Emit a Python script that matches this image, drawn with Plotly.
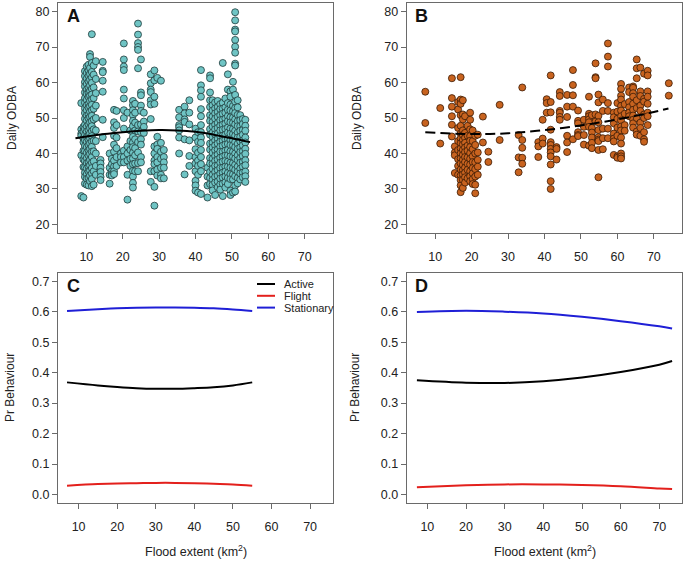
import plotly.graph_objects as go

W, H = 685, 561

# ---------------- Panel A data (flood extent, daily ODBA) ----------------
a_cols = [
    (8.6, [54.2, 46.8, 45.6, 45.0, 39.5, 28.0]),
    (9.2, [47.5, 46.1, 44.3, 43.2, 40.8, 38.3, 36.2, 27.6]),
    (9.6, [63.2, 61.8, 60.1, 58.9, 57.2, 55.6, 54.3, 52.7, 51.4, 49.8, 48.1, 46.9, 45.2, 43.8, 42.1, 40.7, 39.2, 37.9, 36.1, 34.6, 33.4, 31.5]),
    (10.1, [64.5, 62.7, 61.1, 59.6, 58.0, 56.8, 55.1, 53.6, 52.2, 50.7, 49.3, 47.6, 46.2, 44.7, 43.3, 41.8, 40.2, 38.7, 37.3, 35.8, 34.2, 32.9, 31.2]),
    (10.6, [65.0, 63.4, 61.9, 60.3, 58.6, 57.1, 55.9, 54.0, 52.9, 51.0, 49.9, 48.2, 46.6, 45.1, 43.9, 42.4, 40.9, 39.4, 37.6, 36.3, 34.9, 33.1, 31.0]),
    (11.0, [68.0, 67.2, 64.1, 62.4, 60.8, 59.2, 57.6, 56.3, 54.8, 53.3, 51.8, 50.3, 48.8, 47.2, 45.7, 44.3, 42.9, 41.3, 39.9, 38.2, 36.7, 35.2, 33.8, 32.2]),
    (11.5, [73.6, 65.5, 63.0, 61.4, 59.9, 58.2, 56.6, 55.2, 53.7, 52.2, 50.6, 49.1, 47.7, 46.3, 44.9, 43.4, 41.9, 40.5, 39.0, 37.4, 35.9, 34.4, 32.8, 30.8]),
    (12.0, [64.8, 62.2, 58.6, 55.6, 52.6, 49.6, 46.8, 43.6, 40.6, 37.8, 35.0, 31.2]),
    (12.6, [66.0, 61.0, 57.0, 53.5, 50.0, 46.5, 43.5, 40.0, 36.5, 34.0]),
    (13.9, [38.2, 37.2, 36.0, 34.8, 33.4, 32.5]),
    (14.5, [65.8, 63.3, 62.9, 60.5, 57.4, 49.5, 44.6]),
    (16.4, [31.5, 34.0, 36.0, 40.0]),
    (17.0, [38.5, 37.0, 35.0, 34.2, 33.8]),
    (17.6, [52.3, 48.8, 47.2, 45.0, 42.5, 40.5, 38.0, 36.3, 35.0, 34.2]),
    (18.3, [52.0, 48.0, 44.5, 41.5, 39.0, 36.5]),
    (19.5, [40.0, 39.0, 37.5]),
    (20.3, [71.0, 66.5, 64.5, 63.5, 58.0, 55.5, 52.2, 50.0, 47.0, 40.8, 39.0, 37.5]),
    (21.3, [51.5, 42.0, 40.0, 38.0, 34.0, 27.0]),
    (22.1, [46.5, 43.5, 41.0, 38.5, 36.5]),
    (22.8, [54.8, 53.6, 52.2, 50.8, 49.2, 47.7, 46.0, 44.7, 43.1, 41.8, 40.2, 38.6, 37.0, 35.1, 33.5, 31.7, 30.4]),
    (23.4, [54.0, 51.5, 48.7, 46.5, 44.0, 41.5, 39.5, 37.2, 35.0]),
    (24.2, [76.6, 73.5, 71.1, 70.0, 69.2, 64.0, 48.0, 46.2, 43.2, 40.3, 37.3, 35.0]),
    (25.0, [66.5, 57.2, 56.4, 53.5, 52.0, 48.2, 46.0, 44.0, 42.5, 39.0, 37.5]),
    (25.8, [51.5, 49.0, 47.5, 45.8]),
    (27.7, [62.3, 59.8, 58.0, 57.3, 55.0, 53.8, 49.7, 35.0, 32.0]),
    (28.7, [63.4, 60.6, 56.0, 54.0, 42.0, 40.0, 38.0, 37.0, 35.0, 30.6, 25.3]),
    (29.5, [61.3, 44.7, 42.5, 41.3, 39.0, 37.5, 35.5, 33.8]),
    (30.5, [60.5, 43.0, 40.5, 38.5, 36.0, 34.0, 33.0]),
    (31.3, [41.0, 39.0, 37.5, 36.0, 33.0]),
    (35.5, [52.3, 50.2, 48.0, 47.4, 46.5, 44.5, 40.0]),
    (37.0, [53.2, 51.3, 49.6, 48.9, 44.0, 34.1]),
    (38.3, [55.0, 51.5, 48.2, 43.7, 39.3, 36.5]),
    (40.0, [47.0, 44.5, 41.2, 39.0, 37.2, 35.0, 32.3, 31.0, 29.5]),
    (40.7, [46.0, 43.3, 40.2, 38.0, 36.5, 34.0, 29.0]),
    (41.5, [63.5, 59.2, 57.8, 56.0, 52.5, 50.5, 48.0, 46.0, 44.5, 43.0, 41.0, 39.0, 37.0, 35.0, 28.6]),
    (43.3, [36.0, 33.5, 31.0, 27.6]),
    (44.0, [62.0, 61.2, 57.2, 55.0, 53.1, 50.8, 49.2, 46.9, 45.3, 42.8, 41.1, 38.7, 37.2, 34.8, 33.1, 31.4]),
    (44.7, [55.0, 53.6, 52.1, 50.4, 48.9, 47.6, 45.9, 44.6, 43.0, 41.7, 40.2, 38.5, 37.1, 35.7, 34.0, 32.6, 31.2, 29.6]),
    (45.4, [54.4, 52.7, 51.3, 49.8, 48.1, 46.8, 45.4, 43.7, 42.3, 40.9, 39.3, 37.9, 36.5, 34.8, 33.4, 31.8, 28.3]),
    (46.1, [54.8, 53.1, 51.7, 50.3, 48.6, 47.2, 45.6, 44.1, 42.8, 41.1, 39.7, 38.3, 36.6, 35.3, 33.7, 32.1, 30.5]),
    (46.8, [53.9, 52.5, 50.8, 49.4, 47.8, 46.5, 44.9, 43.3, 41.9, 40.5, 38.8, 37.4, 35.9, 34.3, 32.9, 31.3, 29.8]),
    (47.5, [65.5, 54.3, 52.6, 51.2, 49.5, 48.1, 46.7, 45.0, 43.6, 42.2, 40.5, 39.1, 37.7, 36.0, 34.6, 33.2, 31.5, 28.0]),
    (48.2, [55.5, 53.0, 51.5, 49.8, 48.4, 46.9, 45.3, 43.9, 42.5, 40.8, 39.4, 37.9, 36.3, 34.9, 33.5, 31.9, 30.4]),
    (48.9, [62.3, 58.0, 54.2, 52.3, 50.5, 49.1, 47.3, 45.9, 44.1, 42.7, 41.0, 39.5, 37.7, 36.3, 34.5, 33.1, 31.4]),
    (49.6, [57.5, 56.0, 53.8, 52.1, 50.2, 48.8, 47.0, 45.6, 43.8, 42.4, 40.6, 39.2, 37.4, 36.0, 34.2, 32.8, 29.5, 28.3]),
    (50.3, [60.2, 58.0, 53.4, 51.9, 50.1, 48.7, 46.9, 45.5, 43.7, 42.3, 40.5, 39.1, 37.3, 35.9, 34.1, 32.7, 29.0]),
    (50.9, [79.8, 77.5, 74.9, 74.4, 72.0, 70.1, 68.4, 65.3, 64.8, 56.5, 54.6, 52.8, 51.4, 49.6, 48.2, 46.4, 45.0, 43.2, 41.8, 40.0, 38.6, 36.8, 35.4, 33.6, 31.0, 29.3]),
    (51.6, [55.0, 53.0, 50.9, 49.1, 47.7, 45.9, 44.5, 42.7, 41.3, 39.5, 38.1, 36.3, 34.9, 33.1, 31.6]),
    (52.3, [50.8, 49.4, 47.7, 46.4, 44.7, 43.4, 41.7, 40.4, 38.7, 37.4, 35.7, 34.4, 32.7]),
    (53.0, [49.7, 48.3, 46.6, 45.3, 43.6, 42.3, 40.6, 39.3, 37.6, 36.3, 34.6, 33.3]),
    (53.7, [49.5, 47.8, 46.4, 44.5, 43.1, 41.3, 39.9, 38.1, 36.7, 34.9, 33.6, 32.0]),
]

# fitted line, panel A (solid)
a_fit_x = [7.0, 10, 15, 20, 25, 30, 35, 40, 45, 50, 55]
a_fit_y = [44.3, 44.8, 45.5, 46.0, 46.4, 46.6, 46.5, 46.1, 45.3, 44.3, 43.2]

# ---------------- Panel B data ----------------
b_cols = [
    (7.3, [57.4, 48.6]),
    (11.4, [52.8, 42.8]),
    (14.6, [61.2, 55.6, 53.2, 50.5, 48.1, 44.8]),
    (15.4, [42.0, 40.3, 39.5, 34.5]),
    (16.3, [54.5, 52.4, 47.2, 43.5, 41.0, 38.4, 36.5, 34.0]),
    (17.0, [61.5, 55.2, 54.0, 50.8, 47.8, 45.6, 44.2, 42.9, 41.4, 40.0, 38.6, 37.2, 35.5, 33.8, 32.5, 31.0, 29.1]),
    (17.6, [55.0, 51.0, 49.6, 46.5, 45.2, 43.8, 42.5, 41.0, 39.6, 38.2, 36.8, 35.3, 34.1, 32.6, 30.3]),
    (18.2, [50.5, 45.8, 44.4, 43.0, 41.7, 40.4, 39.0, 37.6, 36.0, 34.6, 33.3, 31.8]),
    (18.9, [47.8, 45.0, 42.2, 40.8, 38.9, 37.1, 35.4, 33.0]),
    (19.6, [51.5, 49.5, 46.8, 44.9, 43.6, 41.8, 40.1, 38.5, 36.9, 35.0, 33.6, 32.2]),
    (20.3, [46.5, 43.5, 41.2, 39.2, 37.6, 35.9, 34.4, 32.8, 31.4]),
    (21.0, [45.0, 42.4, 40.0, 37.5, 35.6, 33.5, 31.2, 28.8]),
    (21.7, [45.3, 40.3, 38.2, 36.3, 34.0]),
    (23.1, [50.4, 43.1]),
    (24.6, [40.5, 37.6]),
    (27.7, [53.7, 43.8]),
    (32.9, [45.2, 38.9, 34.7]),
    (33.9, [58.6, 43.8, 41.6, 38.8, 37.1]),
    (38.3, [43.2, 42.0, 39.0]),
    (39.5, [49.5, 44.2, 42.8]),
    (40.6, [55.3, 54.2, 51.5]),
    (41.7, [62.0, 54.5, 51.6, 46.7, 43.2, 42.4, 41.3, 40.3, 39.2, 36.9, 32.2, 30.0]),
    (43.3, [41.8, 41.3, 38.3]),
    (44.2, [57.3, 56.2, 52.0, 51.5, 50.3, 49.5]),
    (46.2, [56.5, 53.2, 50.3, 45.0, 43.1, 40.4]),
    (47.8, [63.5, 59.3, 56.4, 53.2, 44.0]),
    (49.2, [52.1, 49.2, 48.5, 46.0, 45.2, 44.9]),
    (50.8, [49.5, 47.5, 45.2, 42.5]),
    (52.2, [56.0, 51.2, 50.5, 49.6, 48.8, 47.5, 42.2]),
    (53.0, [50.8, 47.2, 45.9, 44.5, 43.0, 41.5]),
    (54.0, [65.4, 61.5, 61.2, 51.0, 49.0]),
    (54.8, [56.6, 54.4, 50.6, 48.8, 46.6, 44.6, 43.9, 43.5, 41.0, 33.3]),
    (56.0, [55.2, 52.0, 47.0, 44.3, 41.2]),
    (57.4, [71.0, 67.3, 64.5, 54.2, 52.0, 47.0, 44.3]),
    (59.0, [51.5, 50.2, 48.5, 45.6, 44.2, 43.4, 39.6]),
    (60.0, [54.2, 51.8, 49.8, 47.3, 45.0, 39.2, 38.8]),
    (61.0, [59.6, 58.2, 56.3, 55.2, 53.4, 52.1, 50.5, 49.3, 47.6, 46.5, 44.5, 42.8, 40.0, 39.2, 38.6]),
    (62.0, [53.9, 51.2, 48.0, 46.4]),
    (63.2, [58.6, 57.3, 54.5, 53.0, 51.5, 50.5]),
    (64.3, [58.9, 58.5, 57.0, 56.0, 54.0, 52.3, 50.7, 49.5, 48.5, 47.3]),
    (65.3, [66.5, 64.0, 61.2, 55.0, 52.8, 50.0, 46.2, 45.3]),
    (66.3, [64.2, 57.5, 56.2, 53.5, 52.0, 48.7, 47.2, 45.0]),
    (67.3, [62.5, 55.4, 54.6, 51.0, 50.0, 46.0, 44.0, 43.3]),
    (68.3, [63.3, 62.0, 57.5, 56.0, 54.0, 51.5, 50.5, 48.0]),
    (74.1, [59.8, 56.3]),
]

# fitted line, panel B (dashed)
b_fit_x = [7.3, 15, 20, 25, 30, 35, 40, 45, 50, 55, 60, 65, 70, 74]
b_fit_y = [46.0, 45.6, 45.5, 45.5, 45.7, 46.1, 46.6, 47.2, 47.9, 48.7, 49.6, 50.6, 51.7, 52.7]

# ---------------- Panel C: predicted probabilities ----------------
c_x = [7.0, 15, 20, 25, 30, 35, 40, 45, 50, 55]
c_active = [0.368, 0.358, 0.353, 0.349, 0.347, 0.347, 0.349, 0.352, 0.358, 0.368]
c_flight = [0.029, 0.034, 0.036, 0.037, 0.038, 0.038, 0.037, 0.035, 0.033, 0.029]
c_stat = [0.602, 0.608, 0.611, 0.613, 0.614, 0.614, 0.613, 0.611, 0.607, 0.602]

# ---------------- Panel D ----------------
d_x = [7.3, 20, 30, 40, 50, 60, 70, 73.3]
d_active = [0.375, 0.367, 0.366, 0.372, 0.384, 0.402, 0.426, 0.438]
d_flight = [0.024, 0.030, 0.033, 0.033, 0.031, 0.027, 0.020, 0.018]
d_stat = [0.599, 0.603, 0.600, 0.594, 0.583, 0.569, 0.552, 0.545]

behaviours = ["Active", "Flight", "Stationary"]
beh_colors = ["#000000", "#e3201c", "#1f1fd6"]

x_ticks = [10, 20, 30, 40, 50, 60, 70]
odba_ticks = [20, 30, 40, 50, 60, 70, 80]
pr_ticks = [0.0, 0.1, 0.2, 0.3, 0.4, 0.5, 0.6, 0.7]


def flatten(cols):
    xs, ys = [], []
    for x, vals in cols:
        for v in vals:
            xs.append(x)
            ys.append(v)
    return xs, ys


FONT = "Liberation Sans, Arial, Helvetica, sans-serif"
fig = go.Figure()

ax, ay = flatten(a_cols)
bx, by = flatten(b_cols)

fig.add_trace(go.Scatter(x=ax, y=ay, mode="markers", xaxis="x", yaxis="y",
                         marker=dict(size=7, color="#6fc4c4", line=dict(color="#1f3b3b", width=0.8)),
                         showlegend=False, hoverinfo="skip"))
fig.add_trace(go.Scatter(x=a_fit_x, y=a_fit_y, mode="lines", xaxis="x", yaxis="y",
                         line=dict(color="black", width=2, shape="spline"), showlegend=False))

fig.add_trace(go.Scatter(x=bx, y=by, mode="markers", xaxis="x2", yaxis="y2",
                         marker=dict(size=7, color="#c8631f", line=dict(color="#3a1a05", width=0.8)),
                         showlegend=False, hoverinfo="skip"))
fig.add_trace(go.Scatter(x=b_fit_x, y=b_fit_y, mode="lines", xaxis="x2", yaxis="y2",
                         line=dict(color="black", width=2, dash="10px,5px", shape="spline"), showlegend=False))

for ys, col, name in zip([c_active, c_flight, c_stat], beh_colors, behaviours):
    fig.add_trace(go.Scatter(x=c_x, y=ys, mode="lines", xaxis="x3", yaxis="y3", name=name,
                             line=dict(color=col, width=2, shape="spline"), showlegend=False))
for ys, col, name in zip([d_active, d_flight, d_stat], beh_colors, behaviours):
    fig.add_trace(go.Scatter(x=d_x, y=ys, mode="lines", xaxis="x4", yaxis="y4", name=name,
                             line=dict(color=col, width=2, shape="spline"), showlegend=False))


def px_x(p):
    return p / W


def px_y(p):
    return 1 - p / H


AX_COL = "#6a6a6a"
common = dict(showgrid=False, zeroline=False, showline=True, mirror=True, linecolor=AX_COL,
              linewidth=1, ticks="outside", ticklen=5, tickwidth=1, tickcolor=AX_COL,
              tickfont=dict(family=FONT, size=12.5, color="#222222"))

top = [px_y(233), px_y(3)]
bot = [px_y(503), px_y(272.7)]
left = [px_x(58), px_x(333)]
right = [px_x(406.7), px_x(682.3)]

fig.update_layout(
    width=W, height=H, autosize=False,
    margin=dict(l=0, r=0, t=0, b=0),
    paper_bgcolor="white", plot_bgcolor="white",
    showlegend=False,
    xaxis=dict(domain=left, anchor="y", range=[2.2, 77.8], tickvals=x_ticks, ticklabelstandoff=7, **common),
    yaxis=dict(domain=top, anchor="x", range=[17.6, 82.4], tickvals=odba_ticks, **common),
    xaxis2=dict(domain=right, anchor="y2", range=[2.2, 77.8], tickvals=x_ticks, ticklabelstandoff=7, **common),
    yaxis2=dict(domain=top, anchor="x2", range=[17.6, 82.4], tickvals=odba_ticks, **common),
    xaxis3=dict(domain=left, anchor="y3", range=[4.66, 75.94], tickvals=x_ticks, ticklabelstandoff=7, **common),
    yaxis3=dict(domain=bot, anchor="x3", range=[-0.028, 0.728], tickvals=pr_ticks, tickformat=".1f", **common),
    xaxis4=dict(domain=right, anchor="y4", range=[4.66, 75.94], tickvals=x_ticks, ticklabelstandoff=7, **common),
    yaxis4=dict(domain=bot, anchor="x4", range=[-0.028, 0.728], tickvals=pr_ticks, tickformat=".1f", **common),
)

ann = []
# axis titles
for xp, yp, txt in [(12, 118, "Daily ODBA"), (357, 118, "Daily ODBA"),
                    (10, 388, "Pr Behaviour"), (355, 388, "Pr Behaviour")]:
    ann.append(dict(x=px_x(xp), y=px_y(yp), xref="paper", yref="paper", text=txt, textangle=-90,
                    showarrow=False, xanchor="center", yanchor="middle",
                    font=dict(family=FONT, size=12, color="#222222")))
for xp in [195.5, 544.5]:
    ann.append(dict(x=px_x(xp), y=px_y(551), xref="paper", yref="paper",
                    text="Flood extent (km<sup>2</sup>)", showarrow=False,
                    xanchor="center", yanchor="middle",
                    font=dict(family=FONT, size=12.5, color="#222222")))
# panel letters
for xp, yp, txt in [(73, 16, "A"), (421, 16, "B"), (73, 286, "C"), (421, 286, "D")]:
    ann.append(dict(x=px_x(xp), y=px_y(yp), xref="paper", yref="paper", text="<b>%s</b>" % txt,
                    showarrow=False, xanchor="center", yanchor="middle",
                    font=dict(family=FONT, size=18, color="#111111")))
# legend (panel C)
shapes = []
for i, (name, col) in enumerate(zip(behaviours, beh_colors)):
    yy = 284 + i * 11.8
    shapes.append(dict(type="line", xref="paper", yref="paper", x0=px_x(257), x1=px_x(275),
                       y0=px_y(yy), y1=px_y(yy), line=dict(color=col, width=2)))
    ann.append(dict(x=px_x(282), y=px_y(yy), xref="paper", yref="paper", text=name,
                    showarrow=False, xanchor="left", yanchor="middle",
                    font=dict(family=FONT, size=11, color="#222222")))

fig.update_layout(annotations=ann, shapes=shapes)
fig.write_html("out.html", config={"displayModeBar": False},
               post_script="document.body.style.margin='0';document.body.style.overflow='hidden';")
